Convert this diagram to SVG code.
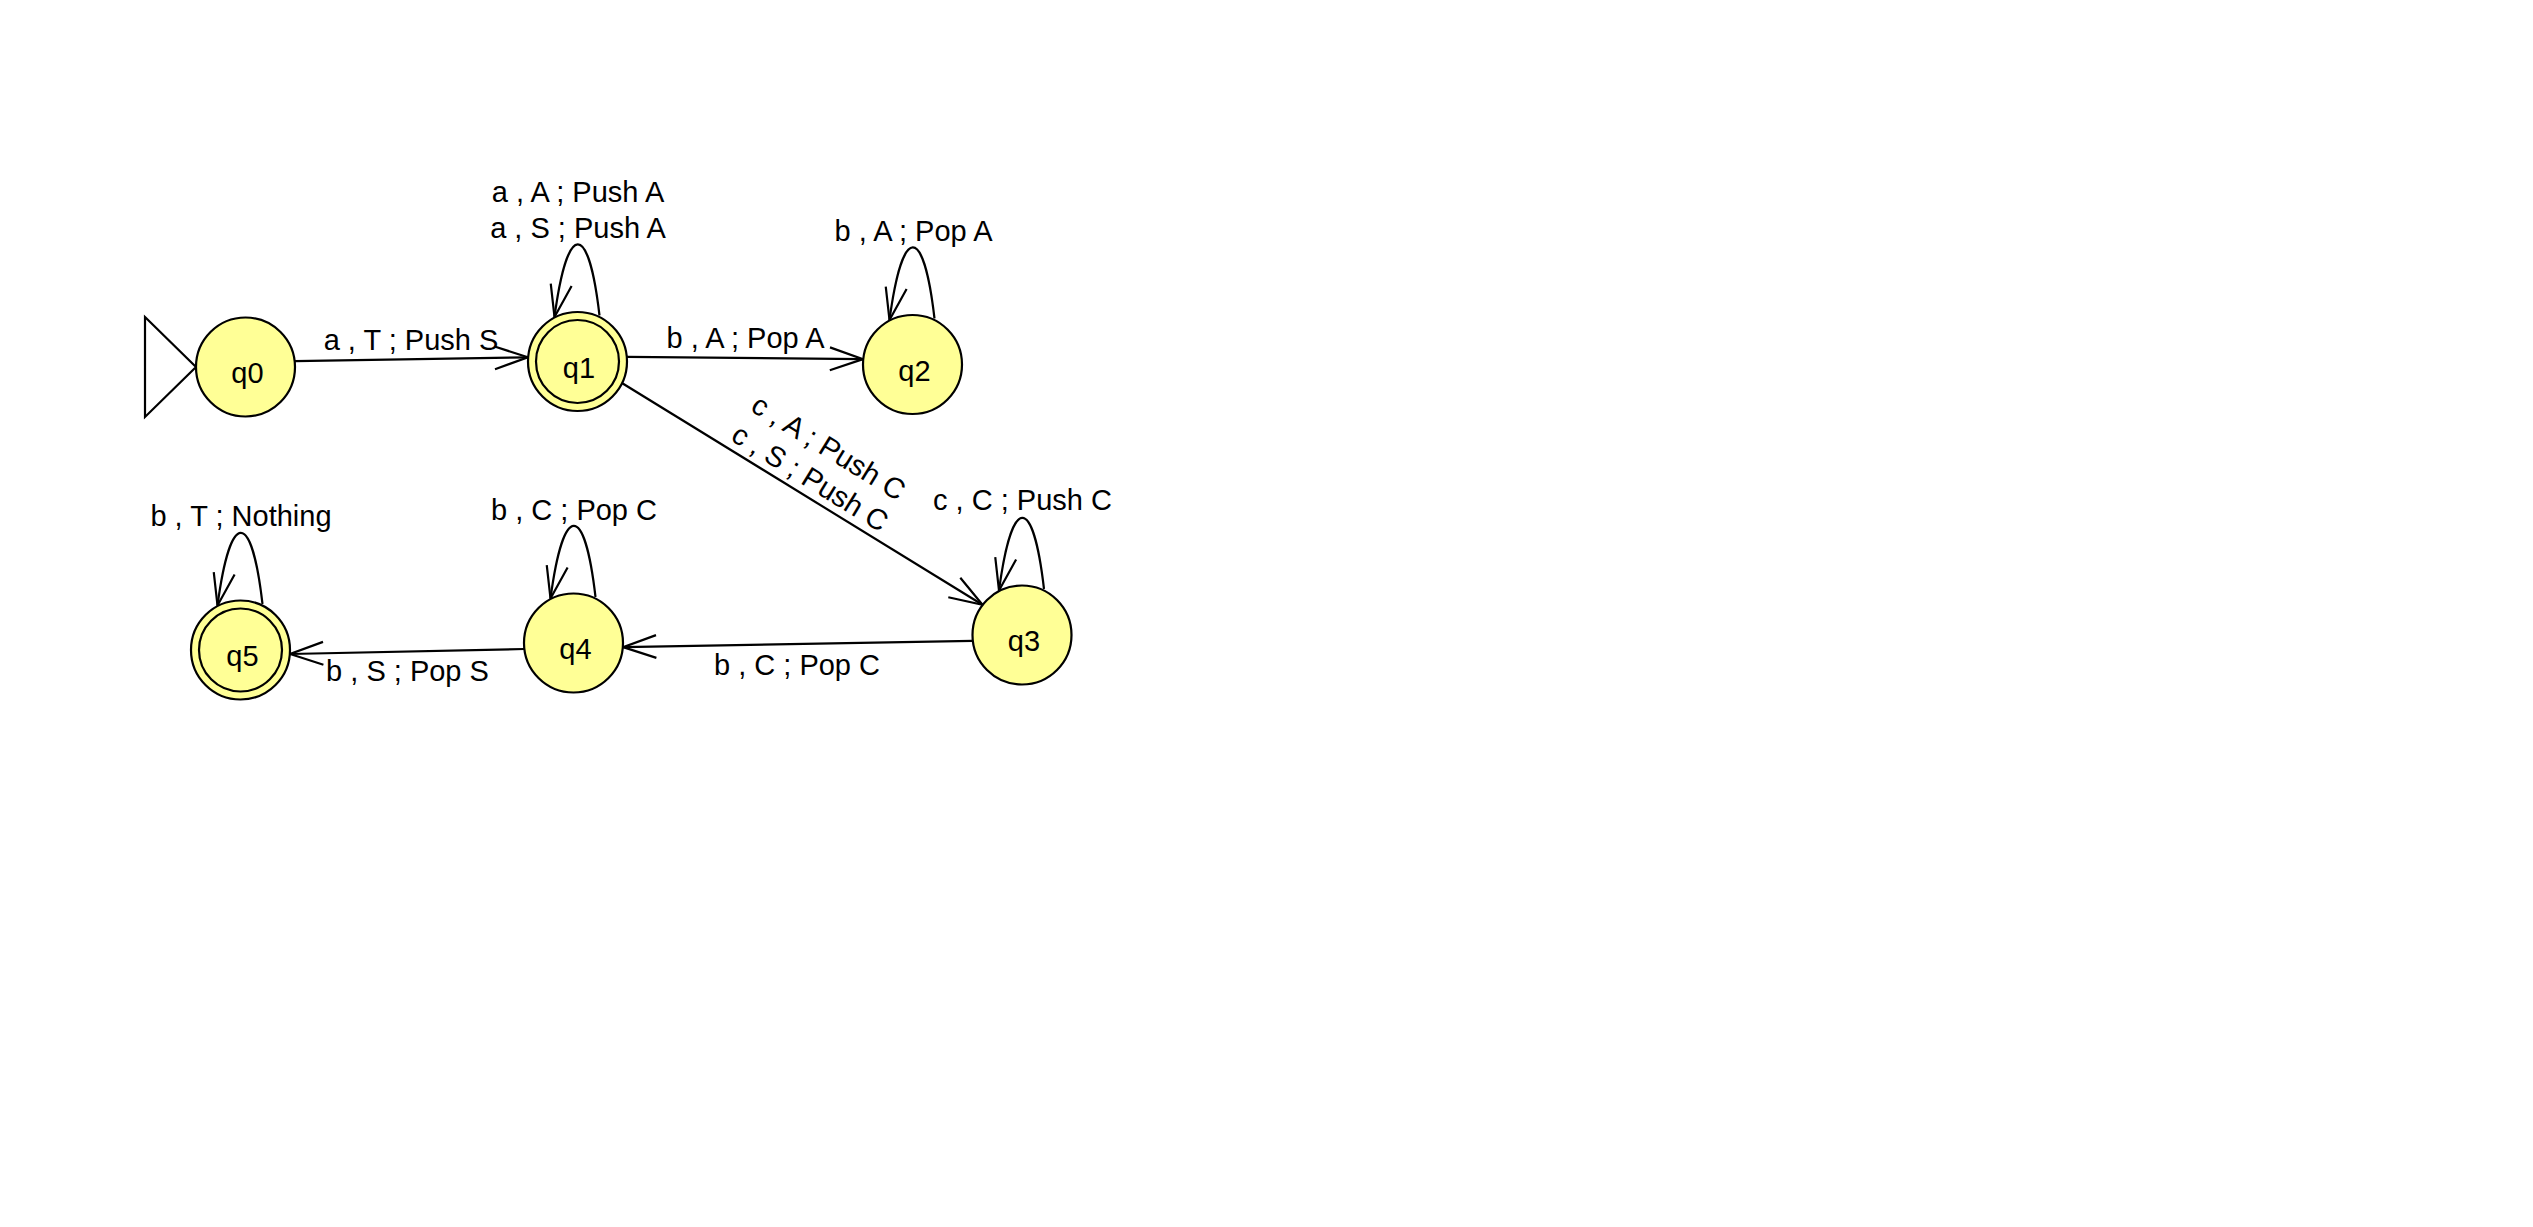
<svg xmlns="http://www.w3.org/2000/svg" width="2533" height="1227" viewBox="0 0 2533 1227">
<style>
.bg{fill:#ffffff}
.state{fill:#ffff96;stroke:#000;stroke-width:2.2}
.inner{fill:none;stroke:#000;stroke-width:2.2}
.start{fill:#ffffff;stroke:#000;stroke-width:2.2}
.edge{fill:none;stroke:#000;stroke-width:2.2}
.head{fill:none;stroke:#000;stroke-width:2.2;stroke-linejoin:miter}
text{font-family:"Liberation Sans",Arial,sans-serif;font-size:29px;fill:#000}
.c{text-anchor:middle}
</style>
<rect class="bg" x="0" y="0" width="2533" height="1227"/>

<g id="connectors">
  <!-- q0 -> q1 -->
  <g id="e-q0-q1">
    <path class="edge" d="M 294.9 361.2 L 527.9 357.3"/>
    <path class="head" d="M 494.6 346.5 L 527.9 357.3 L 495.0 369.2"/>
    <text class="c" x="411" y="350">a , T ; Push S</text>
  </g>
  <!-- q1 -> q2 -->
  <g id="e-q1-q2">
    <path class="edge" d="M 627 356.9 L 863 359.1"/>
    <path class="head" d="M 830.0 347.4 L 863 359.1 L 829.8 370.2"/>
    <text class="c" x="745.5" y="348">b , A ; Pop A</text>
  </g>
  <!-- q1 -> q3 -->
  <g id="e-q1-q3">
    <path class="edge" d="M 622.3 383.2 L 982.5 604.8"/>
    <path class="head" d="M 960.3 577.75 L 982.5 604.8 L 948.3 597.2"/>
    <text class="c" x="823.5" y="455.9" transform="rotate(31.6 823.5 455.9)">c , A ; Push C</text>
    <text class="c" x="804.9" y="486.2" transform="rotate(31.6 804.9 486.2)">c , S ; Push C</text>
  </g>
  <!-- q3 -> q4 -->
  <g id="e-q3-q4">
    <path class="edge" d="M 972.6 640.9 L 623.1 647.1"/>
    <path class="head" d="M 656.4 657.9 L 623.1 647.1 L 656.0 635.1"/>
    <text class="c" x="797" y="675">b , C ; Pop C</text>
  </g>
  <!-- q4 -> q5 -->
  <g id="e-q4-q5">
    <path class="edge" d="M 524.1 649.0 L 290.1 654.0"/>
    <path class="head" d="M 323.4 664.7 L 290.1 654.0 L 323.0 641.9"/>
    <text class="c" x="407.5" y="681">b , S ; Pop S</text>
  </g>
  <!-- loops -->
  <g id="loop-q1">
    <path class="edge" d="M 599.5 315.5 C 588.5 220.5, 567.5 220.5, 554.5 317"/>
    <path class="head" d="M 550.75 283.6 L 554.5 317 L 571.6 286"/>
    <text class="c" x="578" y="201.5">a , A ; Push A</text>
    <text class="c" x="578" y="237.5">a , S ; Push A</text>
  </g>
  <g id="loop-q2">
    <path class="edge" d="M 934.5 318.5 C 923.5 223.5, 902.5 223.5, 889.5 320"/>
    <path class="head" d="M 885.75 286.6 L 889.5 320 L 906.6 289"/>
    <text class="c" x="913.5" y="240.7">b , A ; Pop A</text>
  </g>
  <g id="loop-q3">
    <path class="edge" d="M 1044 589 C 1033 494, 1012 494, 999 590.5"/>
    <path class="head" d="M 995.25 557.1 L 999 590.5 L 1016.1 559.5"/>
    <text class="c" x="1022.5" y="510">c , C ; Push C</text>
  </g>
  <g id="loop-q4">
    <path class="edge" d="M 595.5 597 C 584.5 502, 563.5 502, 550.5 598.5"/>
    <path class="head" d="M 546.75 565.1 L 550.5 598.5 L 567.6 567.5"/>
    <text class="c" x="574" y="519.5">b , C ; Pop C</text>
  </g>
  <g id="loop-q5">
    <path class="edge" d="M 262.5 604 C 251.5 509, 230.5 509, 217.5 605.5"/>
    <path class="head" d="M 213.75 572.1 L 217.5 605.5 L 234.6 574.5"/>
    <text class="c" x="241" y="526">b , T ; Nothing</text>
  </g>
</g>

<g id="start-marker">
  <polygon class="start" points="145,317 196,367 145,417"/>
</g>

<g id="q0">
  <circle class="state" cx="245.5" cy="367" r="49.5"/>
  <text class="c" x="247.5" y="383">q0</text>
</g>
<g id="q1">
  <circle class="state" cx="577.5" cy="361.5" r="49.5"/>
  <circle class="inner" cx="577.5" cy="361.5" r="41.5"/>
  <text class="c" x="579" y="377.5">q1</text>
</g>
<g id="q2">
  <circle class="state" cx="912.5" cy="364.5" r="49.5"/>
  <text class="c" x="914.5" y="380.5">q2</text>
</g>
<g id="q3">
  <circle class="state" cx="1022" cy="635" r="49.5"/>
  <text class="c" x="1024" y="651">q3</text>
</g>
<g id="q4">
  <circle class="state" cx="573.5" cy="643" r="49.5"/>
  <text class="c" x="575.5" y="659">q4</text>
</g>
<g id="q5">
  <circle class="state" cx="240.5" cy="650" r="49.5"/>
  <circle class="inner" cx="240.5" cy="650" r="41.5"/>
  <text class="c" x="242.5" y="666">q5</text>
</g>
</svg>
